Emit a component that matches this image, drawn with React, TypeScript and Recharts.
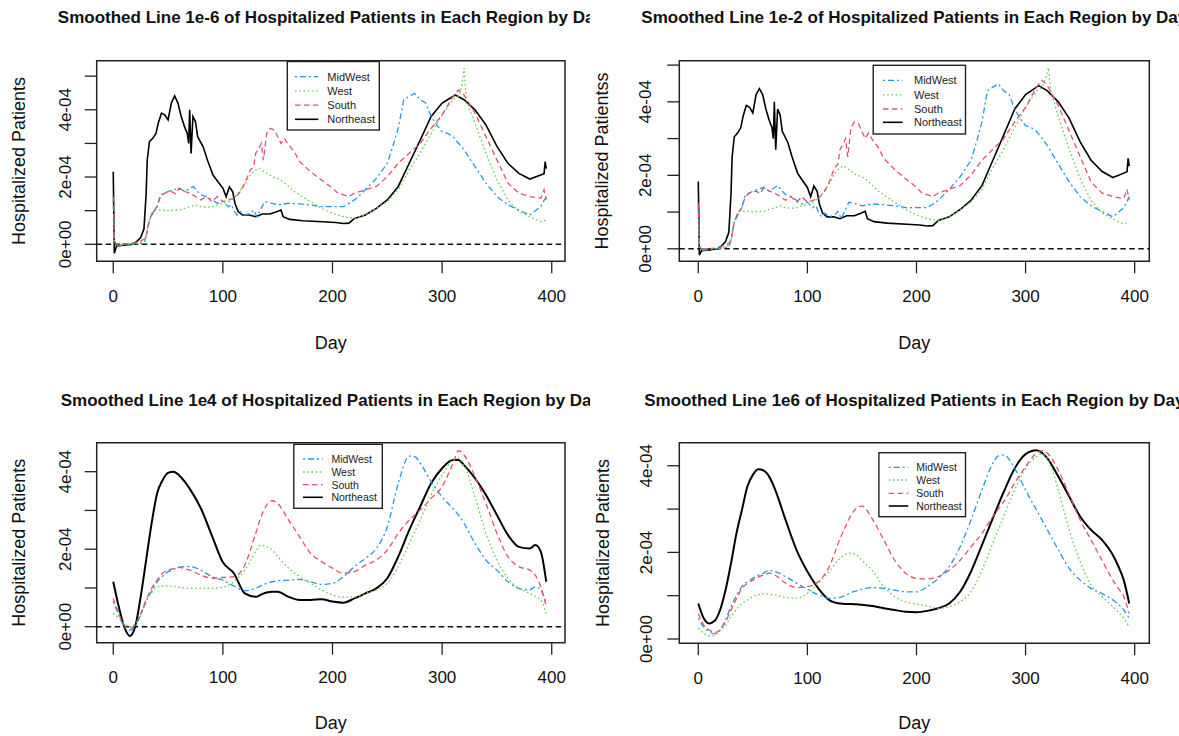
import React from "react";
import { LineChart, Line, XAxis, YAxis, ReferenceLine, ReferenceArea } from "recharts";

const FONT = '"Liberation Sans", Arial, Helvetica, sans-serif';

// ---------- categories / styles ----------
const REGIONS = ["MidWest", "West", "South", "Northeast"];
const COLORS: Record<string, string> = { MidWest: "#2297E6", West: "#61D04F", South: "#DF536B", Northeast: "#000000" };
const DASHES: Record<string, string | undefined> = { MidWest: "2 3 6 3", West: "1.6 2.6", South: "5.5 3.5", Northeast: undefined };
const X_TICKS = [0, 100, 200, 300, 400];
const Y_TICKS_TOP = [0, 1, 2, 3, 4, 5]; // units of 1e-4
const Y_TICKS_BOTTOM = [0, 1, 2, 3, 4];
const Y_TICK_LABELS: Record<number, string> = { 0: "0e+00", 2: "2e-04", 4: "4e-04" };

type Pt = [number, number]; // [day, hospitalized patients ×1e-4]

// ---------- Panel 1 : lambda 1e-6 ----------
const P1_MIDWEST: Pt[] = [[0,1.32],[1,0.1],[3,-0.05],[15,0.0],[28,0.05],[30,0.23],[33,0.72],[37,0.97],[40,1.12],[43,1.47],[47,1.52],[50,1.57],[55,1.62],[60,1.67],[65,1.57],[70,1.67],[73,1.72],[77,1.57],[80,1.47],[85,1.42],[90,1.32],[95,1.22],[100,1.27],[105,1.12],[108,1.17],[110,1.0],[113,0.87],[116,0.97],[120,0.87],[125,0.92],[128,1.02],[131,0.82],[135,1.07],[138,1.27],[145,1.22],[150,1.17],[160,1.22],[170,1.2],[180,1.17],[190,1.12],[200,1.12],[210,1.12],[220,1.32],[230,1.62],[240,1.96],[250,2.41],[255,2.91],[260,3.45],[265,4.3],[270,4.4],[275,4.49],[280,4.3],[285,4.2],[290,3.8],[295,3.55],[300,3.35],[305,3.3],[310,3.2],[320,2.81],[330,2.31],[340,1.82],[350,1.42],[360,1.17],[370,1.02],[380,0.87],[390,1.12],[395,1.42]];
const P1_WEST: Pt[] = [[0,0.75],[1,0.05],[3,0.0],[20,0.0],[29,0.1],[32,0.62],[35,0.92],[38,1.02],[45,1.02],[50,1.0],[55,1.02],[60,1.02],[65,1.07],[70,1.12],[75,1.17],[80,1.12],[85,1.1],[90,1.12],[95,1.17],[100,1.22],[105,1.27],[110,1.37],[115,1.57],[120,1.77],[125,2.06],[130,2.21],[133,2.26],[140,2.11],[145,2.01],[150,1.96],[155,1.86],[160,1.72],[165,1.57],[170,1.47],[180,1.27],[190,1.07],[200,0.92],[210,0.82],[220,0.77],[230,0.87],[240,1.07],[250,1.27],[260,1.62],[270,2.21],[280,2.71],[290,3.3],[300,3.85],[310,4.3],[315,4.4],[318,4.69],[320,5.24],[322,4.3],[330,3.6],[340,2.71],[350,1.91],[360,1.32],[370,0.97],[380,0.82],[390,0.67],[395,0.72]];
const P1_SOUTH: Pt[] = [[0,1.42],[1,0.1],[3,0.0],[15,0.02],[25,0.1],[28,0.15],[30,0.23],[33,0.72],[36,0.97],[40,1.12],[43,1.42],[47,1.52],[53,1.57],[57,1.5],[60,1.67],[65,1.57],[70,1.52],[75,1.42],[80,1.32],[85,1.42],[90,1.27],[95,1.42],[100,1.27],[105,1.32],[110,1.37],[115,1.52],[120,1.82],[125,2.21],[128,2.3],[130,2.71],[133,2.86],[135,3.0],[137,2.5],[140,3.3],[143,3.45],[147,3.4],[150,3.2],[153,3.0],[156,3.15],[160,2.95],[165,2.76],[170,2.46],[180,2.16],[190,1.91],[200,1.67],[205,1.52],[210,1.47],[215,1.42],[220,1.52],[230,1.62],[240,1.72],[250,2.01],[260,2.41],[270,2.71],[280,3.0],[290,3.45],[300,3.85],[310,4.4],[315,4.59],[320,4.44],[330,3.9],[340,3.2],[350,2.51],[360,1.82],[370,1.52],[380,1.42],[390,1.37],[393,1.62],[395,1.32]];
const P1_NORTHEAST: Pt[] = [[0,2.16],[1,-0.27],[3,-0.05],[10,-0.03],[18,0.0],[22,0.1],[25,0.2],[28,0.45],[30,1.5],[31,2.5],[33,3.05],[36,3.15],[39,3.3],[41,3.6],[44,3.9],[47,3.85],[50,3.7],[53,4.2],[56,4.41],[59,4.2],[62,3.8],[65,3.5],[67.5,3.3],[68.8,3.0],[69.7,4.0],[71,2.7],[72.7,3.8],[75,3.65],[77,3.2],[82,2.9],[86,2.5],[91,2.06],[95.5,1.86],[100,1.67],[103,1.42],[106,1.71],[109,1.56],[111,1.22],[114,0.97],[118,0.87],[124,0.87],[130,0.82],[136,0.9],[143,0.9],[149,0.97],[153,1.02],[155,0.82],[161,0.74],[173,0.7],[191,0.67],[203,0.65],[210,0.62],[215,0.63],[220,0.77],[230,0.87],[240,1.07],[250,1.32],[260,1.72],[270,2.41],[280,3.1],[290,3.8],[300,4.2],[305,4.3],[312,4.44],[320,4.3],[330,4.0],[340,3.55],[350,2.91],[360,2.41],[370,2.11],[380,1.94],[390,2.06],[393,2.1],[394,2.46],[395,2.25]];

// ---------- Panel 2 : lambda 1e-2 ----------
const P2_MIDWEST: Pt[] = [[0,1.2],[1,0.1],[3,-0.05],[15,0.0],[28,0.05],[30,0.23],[33,0.72],[37,0.97],[40,1.12],[43,1.47],[47,1.52],[50,1.57],[55,1.62],[60,1.67],[65,1.57],[70,1.67],[73,1.72],[77,1.57],[80,1.47],[85,1.42],[90,1.32],[95,1.22],[100,1.27],[105,1.12],[108,1.17],[110,1.0],[113,0.87],[116,0.97],[120,0.87],[125,0.92],[128,1.02],[131,0.82],[135,1.07],[138,1.27],[145,1.22],[150,1.17],[160,1.22],[170,1.2],[180,1.17],[190,1.12],[200,1.12],[210,1.12],[220,1.32],[230,1.62],[240,1.96],[250,2.41],[255,2.91],[260,3.45],[265,4.3],[270,4.4],[275,4.49],[280,4.3],[285,4.2],[290,3.8],[295,3.55],[300,3.35],[305,3.3],[310,3.2],[320,2.81],[330,2.31],[340,1.82],[350,1.42],[360,1.17],[370,1.02],[380,0.87],[390,1.12],[395,1.42]];
const P2_WEST: Pt[] = [[0,0.75],[1,0.05],[3,0.0],[20,0.0],[29,0.1],[32,0.62],[35,0.92],[38,1.02],[45,1.02],[50,1.0],[55,1.02],[60,1.02],[65,1.07],[70,1.12],[75,1.17],[80,1.12],[85,1.1],[90,1.12],[95,1.17],[100,1.22],[105,1.27],[110,1.37],[115,1.57],[120,1.77],[125,2.06],[130,2.21],[133,2.26],[140,2.11],[145,2.01],[150,1.96],[155,1.86],[160,1.72],[165,1.57],[170,1.47],[180,1.27],[190,1.07],[200,0.92],[210,0.82],[220,0.77],[230,0.87],[240,1.07],[250,1.27],[260,1.62],[270,2.21],[280,2.71],[290,3.3],[300,3.85],[310,4.3],[315,4.4],[318,4.6],[321,4.93],[323,4.3],[330,3.6],[340,2.71],[350,1.91],[360,1.32],[370,0.97],[380,0.82],[390,0.67],[395,0.72]];
const P2_SOUTH: Pt[] = [[0,1.24],[1,0.1],[3,0.0],[15,0.02],[25,0.1],[28,0.15],[30,0.23],[33,0.72],[36,0.97],[40,1.12],[43,1.42],[47,1.52],[53,1.57],[57,1.5],[60,1.67],[65,1.57],[70,1.52],[75,1.42],[80,1.32],[85,1.42],[90,1.27],[95,1.42],[100,1.27],[105,1.32],[110,1.37],[115,1.52],[120,1.82],[125,2.21],[128,2.3],[130,2.71],[133,2.86],[135,3.0],[137,2.5],[140,3.3],[143,3.45],[147,3.4],[150,3.2],[153,3.0],[156,3.15],[160,2.95],[165,2.76],[170,2.46],[180,2.16],[190,1.91],[200,1.67],[205,1.52],[210,1.47],[215,1.42],[220,1.52],[230,1.62],[240,1.72],[250,2.01],[260,2.41],[270,2.71],[280,3.0],[290,3.45],[300,3.85],[310,4.4],[315,4.59],[320,4.44],[330,3.9],[340,3.2],[350,2.51],[360,1.82],[370,1.52],[380,1.42],[390,1.37],[393,1.62],[395,1.32]];
const P2_NORTHEAST: Pt[] = [[0,1.83],[1,-0.17],[3,-0.05],[10,-0.03],[18,0.0],[22,0.1],[25,0.2],[28,0.45],[30,1.5],[31,2.5],[33,3.05],[36,3.15],[39,3.3],[41,3.6],[44,3.9],[47,3.85],[50,3.7],[53,4.2],[56,4.36],[59,4.2],[62,3.8],[65,3.5],[67.5,3.3],[68.8,3.0],[69.7,4.0],[71,2.7],[72.7,3.8],[75,3.65],[77,3.2],[82,2.9],[86,2.5],[91,2.06],[95.5,1.86],[100,1.67],[103,1.42],[106,1.71],[109,1.56],[111,1.22],[114,0.97],[118,0.87],[124,0.87],[130,0.82],[136,0.9],[143,0.9],[149,0.97],[153,1.02],[155,0.82],[161,0.74],[173,0.7],[191,0.67],[203,0.65],[210,0.62],[215,0.63],[220,0.77],[230,0.87],[240,1.07],[250,1.32],[260,1.72],[270,2.41],[280,3.1],[290,3.8],[300,4.2],[305,4.3],[312,4.44],[320,4.3],[330,4.0],[340,3.55],[350,2.91],[360,2.41],[370,2.11],[380,1.94],[390,2.06],[393,2.1],[394,2.46],[395,2.25]];

// ---------- Panel 3 : lambda 1e4 ----------
const P3_MIDWEST: Pt[] = [[0,0.65],[5,0.3],[10,0.0],[15,-0.09],[20,0.0],[25,0.3],[30,0.65],[35,0.92],[40,1.16],[45,1.3],[50,1.42],[55,1.48],[60,1.53],[65,1.55],[70,1.55],[80,1.46],[90,1.29],[100,1.2],[110,1.05],[120,0.93],[130,0.99],[135,1.06],[140,1.12],[145,1.16],[150,1.18],[160,1.2],[170,1.22],[180,1.16],[190,1.09],[200,1.12],[210,1.29],[220,1.55],[230,1.76],[240,2.02],[250,2.58],[260,3.7],[270,4.4],[275,4.39],[280,4.22],[290,3.74],[300,3.35],[310,3.05],[315,2.88],[320,2.67],[330,2.15],[340,1.72],[350,1.46],[360,1.16],[370,0.99],[380,0.95],[385,1.03],[390,0.95],[395,0.6]];
const P3_WEST: Pt[] = [[0,0.34],[5,0.22],[10,0.09],[15,0.0],[20,0.07],[25,0.3],[30,0.65],[35,0.88],[40,1.03],[45,1.05],[50,1.05],[55,1.04],[60,1.02],[65,1.0],[70,0.99],[80,0.99],[90,0.99],[100,1.02],[110,1.16],[120,1.46],[130,1.94],[135,2.11],[140,2.06],[145,1.98],[150,1.81],[160,1.51],[170,1.29],[180,1.12],[190,0.95],[200,0.82],[210,0.76],[220,0.77],[230,0.86],[240,0.95],[250,1.12],[260,1.55],[270,2.15],[275,2.45],[280,2.75],[290,3.4],[300,3.91],[310,4.3],[315,4.34],[320,4.17],[330,3.35],[340,2.41],[350,1.72],[360,1.25],[370,0.99],[380,0.86],[385,0.78],[390,0.69],[395,0.34]];
const P3_SOUTH: Pt[] = [[0,0.73],[5,0.34],[10,0.04],[15,-0.04],[20,0.04],[25,0.34],[30,0.69],[35,0.99],[40,1.2],[45,1.38],[50,1.46],[55,1.5],[60,1.53],[65,1.5],[70,1.46],[80,1.33],[90,1.25],[100,1.27],[110,1.29],[120,1.59],[130,2.41],[135,2.85],[140,3.14],[145,3.25],[150,3.18],[160,2.75],[170,2.32],[180,1.89],[190,1.68],[200,1.51],[210,1.38],[220,1.42],[230,1.59],[240,1.72],[250,1.98],[260,2.41],[270,2.75],[275,2.88],[280,3.01],[290,3.31],[300,3.61],[310,4.22],[315,4.54],[320,4.43],[330,3.87],[340,3.18],[350,2.41],[360,1.81],[370,1.55],[380,1.46],[385,1.33],[390,1.03],[395,0.52]];
const P3_NORTHEAST: Pt[] = [[0,1.16],[5,0.52],[10,0.0],[15,-0.24],[20,0.0],[25,0.77],[30,1.72],[35,2.67],[40,3.44],[45,3.78],[50,3.97],[55,4.0],[60,3.91],[65,3.75],[70,3.55],[80,3.05],[90,2.35],[100,1.66],[110,1.38],[120,0.86],[130,0.77],[135,0.83],[140,0.88],[145,0.9],[150,0.9],[160,0.77],[170,0.69],[180,0.69],[190,0.71],[200,0.65],[210,0.62],[220,0.73],[230,0.86],[240,0.99],[250,1.25],[260,1.81],[270,2.49],[275,2.8],[280,3.1],[290,3.7],[300,4.09],[310,4.3],[315,4.3],[320,4.17],[330,3.83],[340,3.4],[350,2.88],[360,2.37],[370,2.06],[380,2.02],[385,2.11],[390,1.94],[395,1.16]];

// ---------- Panel 4 : lambda 1e6 ----------
const P4_MIDWEST: Pt[] = [[0,0.48],[5,0.28],[10,0.17],[15,0.12],[20,0.21],[25,0.44],[30,0.75],[35,1.0],[40,1.21],[45,1.32],[50,1.4],[55,1.47],[60,1.53],[65,1.58],[70,1.56],[80,1.44],[90,1.29],[100,1.15],[110,1.02],[120,0.94],[130,0.96],[135,1.01],[140,1.07],[145,1.11],[150,1.15],[160,1.19],[170,1.17],[180,1.13],[190,1.09],[200,1.09],[210,1.21],[220,1.4],[230,1.67],[240,2.13],[250,2.75],[260,3.44],[270,4.06],[275,4.23],[280,4.25],[290,3.94],[300,3.44],[310,2.98],[315,2.75],[320,2.52],[330,2.06],[340,1.63],[350,1.36],[360,1.17],[370,1.05],[380,0.9],[385,0.8],[390,0.67],[395,0.48]];
const P4_WEST: Pt[] = [[0,0.25],[5,0.13],[10,0.07],[15,0.09],[20,0.19],[25,0.32],[30,0.52],[35,0.68],[40,0.82],[45,0.9],[50,0.98],[55,1.02],[60,1.04],[65,1.03],[70,1.02],[80,0.96],[90,0.94],[100,1.05],[110,1.29],[120,1.56],[130,1.86],[135,1.95],[140,1.98],[145,1.94],[150,1.82],[160,1.56],[170,1.21],[180,0.98],[190,0.86],[200,0.81],[210,0.76],[220,0.71],[230,0.75],[240,0.86],[250,1.09],[260,1.59],[270,2.21],[275,2.52],[280,2.83],[290,3.44],[300,3.94],[310,4.21],[315,4.27],[320,4.17],[330,3.44],[340,2.52],[350,1.79],[360,1.25],[370,0.98],[380,0.75],[385,0.62],[390,0.48],[395,0.28]];
const P4_SOUTH: Pt[] = [[0,0.59],[5,0.32],[10,0.21],[15,0.15],[20,0.21],[25,0.4],[30,0.67],[35,0.93],[40,1.17],[45,1.28],[50,1.36],[55,1.43],[60,1.48],[65,1.52],[70,1.48],[80,1.29],[90,1.19],[100,1.21],[110,1.32],[120,1.67],[130,2.32],[135,2.6],[140,2.86],[145,3.02],[150,3.07],[160,2.75],[170,2.29],[180,1.82],[190,1.52],[200,1.4],[210,1.39],[220,1.44],[230,1.59],[240,1.82],[250,2.13],[260,2.44],[270,2.83],[275,3.0],[280,3.17],[290,3.6],[300,3.98],[310,4.29],[315,4.35],[320,4.29],[330,3.9],[340,3.33],[350,2.75],[360,2.29],[370,1.82],[380,1.36],[385,1.17],[390,0.98],[395,0.59]];
const P4_NORTHEAST: Pt[] = [[0,0.82],[5,0.48],[10,0.36],[15,0.42],[20,0.67],[25,1.13],[30,1.75],[35,2.44],[40,2.98],[45,3.52],[50,3.79],[55,3.92],[60,3.89],[65,3.75],[70,3.48],[80,2.75],[90,2.06],[100,1.56],[110,1.17],[120,0.9],[130,0.82],[135,0.81],[140,0.81],[145,0.8],[150,0.79],[160,0.76],[170,0.71],[180,0.67],[190,0.63],[200,0.62],[210,0.65],[220,0.71],[230,0.82],[240,1.09],[250,1.56],[260,2.17],[270,2.79],[275,3.1],[280,3.4],[290,3.94],[300,4.27],[310,4.36],[315,4.3],[320,4.17],[330,3.75],[340,3.29],[350,2.83],[360,2.52],[370,2.29],[380,1.94],[385,1.68],[390,1.36],[395,0.82]];

type Box = { x1: number; x2: number; y1: number; y2: number };
type PanelCfg = {
  left: number; top: number; width: number; height: number;
  box: Box; xDomain: [number, number]; yDomain: [number, number]; yTicks: number[];
  title: string; titleY: number; yLabel: string; yLabelX: number; yTickOff: number; dayOff: number;
  zeroLine: boolean; neWidth: number; curve: "linear" | "monotone";
  series: Record<string, Pt[]>;
  legend: { x: number; y: number; w: number; h: number; rows: number[]; lx1: number; lx2: number; tx: number; font: number };
};

const PANELS: PanelCfg[] = [
  {
    left: 0, top: 0, width: 590, height: 370,
    box: { x1: 96.7, x2: 565, y1: 60.7, y2: 261.3 }, xDomain: [-15.1, 412.1], yDomain: [-0.506, 5.46], yTicks: Y_TICKS_TOP,
    title: "Smoothed Line 1e-6 of Hospitalized Patients in Each Region by Day", titleY: 17.3,
    yLabel: "Hospitalized Patients", yLabelX: 18.8, yTickOff: 31.5, dayOff: 82,
    zeroLine: true, neWidth: 1.6, curve: "linear",
    series: { MidWest: P1_MIDWEST, West: P1_WEST, South: P1_SOUTH, Northeast: P1_NORTHEAST },
    legend: { x: 287.3, y: 61.5, w: 92, h: 68.5, rows: [15.2, 29.4, 43.6, 57.8], lx1: 7.7, lx2: 31, tx: 40, font: 11 },
  },
  {
    left: 590, top: 0, width: 589, height: 370,
    box: { x1: 89.3, x2: 559.3, y1: 60.7, y2: 261.3 }, xDomain: [-17.4, 413.4], yDomain: [-0.34, 5.12], yTicks: Y_TICKS_TOP,
    title: "Smoothed Line 1e-2 of Hospitalized Patients in Each Region by Day", titleY: 17.3,
    yLabel: "Hospitalized Patientss", yLabelX: 12.4, yTickOff: 34, dayOff: 82,
    zeroLine: true, neWidth: 1.6, curve: "linear",
    series: { MidWest: P2_MIDWEST, West: P2_WEST, South: P2_SOUTH, Northeast: P2_NORTHEAST },
    legend: { x: 283.2, y: 65.3, w: 92.3, h: 68.7, rows: [15, 29.5, 43.7, 57], lx1: 9.8, lx2: 29.4, tx: 40.8, font: 11 },
  },
  {
    left: 0, top: 370, width: 590, height: 366,
    box: { x1: 96.7, x2: 565, y1: 72.7, y2: 272.7 }, xDomain: [-15.1, 412.1], yDomain: [-0.413, 4.748], yTicks: Y_TICKS_BOTTOM,
    title: "Smoothed Line 1e4 of Hospitalized Patients in Each Region by Day", titleY: 30,
    yLabel: "Hospitalized Patients", yLabelX: 18.8, yTickOff: 31.5, dayOff: 80.6,
    zeroLine: true, neWidth: 2, curve: "monotone",
    series: { MidWest: P3_MIDWEST, West: P3_WEST, South: P3_SOUTH, Northeast: P3_NORTHEAST },
    legend: { x: 293.8, y: 74.3, w: 88.5, h: 64, rows: [14.7, 27.7, 40.4, 53], lx1: 9.2, lx2: 29, tx: 37.6, font: 10.5 },
  },
  {
    left: 590, top: 370, width: 589, height: 366,
    box: { x1: 89.3, x2: 559.3, y1: 72.7, y2: 273.3 }, xDomain: [-17.4, 413.4], yDomain: [-0.099, 4.533], yTicks: Y_TICKS_BOTTOM,
    title: "Smoothed Line 1e6 of Hospitalized Patients in Each Region by Day", titleY: 30,
    yLabel: "Hospitalized Patients", yLabelX: 13.2, yTickOff: 33, dayOff: 80,
    zeroLine: false, neWidth: 2, curve: "monotone",
    series: { MidWest: P4_MIDWEST, West: P4_WEST, South: P4_SOUTH, Northeast: P4_NORTHEAST },
    legend: { x: 288.9, y: 82.7, w: 86.6, h: 64, rows: [14.6, 27.3, 40.6, 53.3], lx1: 9.8, lx2: 29.4, tx: 37.3, font: 10.5 },
  },
];

const DRAW_ORDER = ["Northeast", "MidWest", "West", "South"];

function Panel({ cfg }: { cfg: PanelCfg }) {
  const { box } = cfg;
  const cx = (box.x1 + box.x2) / 2;
  const cy = (box.y1 + box.y2) / 2;
  const YTick = (props: any) => {
    const { y, payload } = props;
    const tx = box.x1 - cfg.yTickOff;
    const label = Y_TICK_LABELS[payload.value] ?? "";
    return (
      <text x={tx} y={y} transform={`rotate(-90, ${tx}, ${y})`} textAnchor="middle" dominantBaseline="central"
        fontSize={17} fill="#111" fontFamily={FONT}>{label}</text>
    );
  };
  const lg = cfg.legend;
  return (
    <div style={{ position: "absolute", left: cfg.left, top: cfg.top, width: cfg.width, height: cfg.height, overflow: "hidden", background: "#fff" }}>
      <div style={{ position: "absolute", left: 0, top: 0 }}>
        <LineChart width={cfg.width} height={cfg.height}
          margin={{ top: box.y1, right: cfg.width - box.x2, bottom: 0, left: 0 }}>
          <XAxis type="number" dataKey="day" domain={cfg.xDomain} ticks={X_TICKS} allowDataOverflow interval={0}
            height={cfg.height - box.y2} axisLine={false} tickSize={12} tickMargin={16.5}
            tickLine={{ stroke: "#222", strokeWidth: 1.3 }}
            tick={{ fontSize: 17, fill: "#111", fontFamily: FONT }} />
          <YAxis type="number" domain={cfg.yDomain} ticks={cfg.yTicks} allowDataOverflow interval={0}
            width={box.x1} axisLine={false} tickSize={12} tickLine={{ stroke: "#222", strokeWidth: 1.3 }}
            tick={<YTick />} />
          <ReferenceArea x1={cfg.xDomain[0]} x2={cfg.xDomain[1]} y1={cfg.yDomain[0]} y2={cfg.yDomain[1]}
            fill="none" fillOpacity={0} stroke="#222" strokeWidth={1.5} ifOverflow="visible" />
          {cfg.zeroLine && <ReferenceLine y={0} stroke="#111" strokeWidth={1.4} strokeDasharray="5.5 3.5" />}
          {DRAW_ORDER.map((r) => (
            <Line key={r} name={r} data={cfg.series[r].map(([d, v]) => ({ day: d, v }))} dataKey="v"
              type={cfg.curve} stroke={COLORS[r]} strokeWidth={r === "Northeast" ? cfg.neWidth : 1.3}
              strokeDasharray={DASHES[r]} dot={false} activeDot={false} isAnimationActive={false} />
          ))}
        </LineChart>
      </div>
      <svg width={cfg.width} height={cfg.height} style={{ position: "absolute", left: 0, top: 0, pointerEvents: "none" }}>
        <text x={cx} y={cfg.titleY} textAnchor="middle" dominantBaseline="central" fontSize={17} fontWeight="bold" fill="#111" fontFamily={FONT}>{cfg.title}</text>
        <text x={cx} y={box.y2 + cfg.dayOff} textAnchor="middle" dominantBaseline="central" fontSize={18} fill="#111" fontFamily={FONT}>Day</text>
        <text x={cfg.yLabelX} y={cy} transform={`rotate(-90, ${cfg.yLabelX}, ${cy})`} textAnchor="middle" dominantBaseline="central" fontSize={18} fill="#111" fontFamily={FONT}>{cfg.yLabel}</text>
        <rect x={lg.x} y={lg.y} width={lg.w} height={lg.h} fill="#fff" stroke="#222" strokeWidth={1.4} />
        {REGIONS.map((r, i) => (
          <g key={r}>
            <line x1={lg.x + lg.lx1} x2={lg.x + lg.lx2} y1={lg.y + lg.rows[i]} y2={lg.y + lg.rows[i]} stroke={COLORS[r]}
              strokeWidth={r === "Northeast" ? 1.6 : 1.3} strokeDasharray={DASHES[r]} />
            <text x={lg.x + lg.tx} y={lg.y + lg.rows[i]} dominantBaseline="central" fontSize={lg.font} fill="#222" fontFamily={FONT}>{r}</text>
          </g>
        ))}
      </svg>
    </div>
  );
}

export default function App() {
  return (
    <div style={{ position: "absolute", left: 0, top: 0, width: 1179, height: 736, background: "#fff", overflow: "hidden" }}>
      {PANELS.map((p, i) => <Panel key={i} cfg={p} />)}
    </div>
  );
}
